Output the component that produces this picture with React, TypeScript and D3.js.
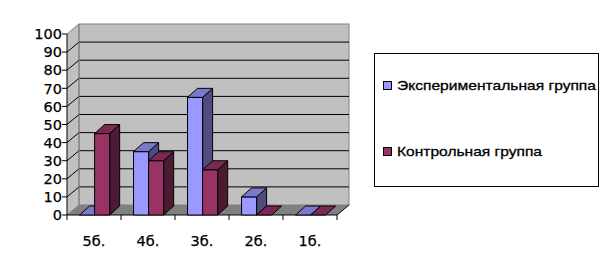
import React from "react";
import * as d3 from "d3";

const categories = ["5б.", "4б.", "3б.", "2б.", "1б."];
const experimental = [0, 35, 65, 10, 0];
const control = [45, 30, 25, 0, 0];
const seriesNames = ["Экспериментальная группа", "Контрольная группа"];
const yTicks = [0, 10, 20, 30, 40, 50, 60, 70, 80, 90, 100];

const W = 609, H = 265;
const X0 = 67, X1 = 337;
const Y0 = 215, Y100 = 34;
const WDX = 12, WDY = 10; // wall depth
const BDX = 10, BDY = 9; // bar depth

const colors = [
  { face: "#9999FF", top: "#7A7ACC", side: "#4D4D80" },
  { face: "#993366", top: "#7A2952", side: "#4D1A33" },
];

export default function App() {
  const y = d3.scaleLinear().domain([0, 100]).range([Y0, Y100]);
  const x = d3.scaleBand<string>().domain(categories).range([X0, X1]).paddingInner(0).paddingOuter(0);
  const inner = d3.scaleBand<number>().domain([0, 1]).range([0, x.bandwidth()]).paddingOuter(0.793).paddingInner(0);
  const series = [experimental, control];
  const font = "'DejaVu Sans', Verdana, sans-serif";

  const bars: React.ReactNode[] = [];
  categories.forEach((c, ci) => {
    series.forEach((s, si) => {
      const v = s[ci];
      const bx = (x(c) as number) + (inner(si) as number) + 0.6;
      const bw = inner.bandwidth();
      const yv = y(v);
      const col = colors[si];
      const topPts = [[bx, yv], [bx + BDX, yv - BDY], [bx + bw + BDX, yv - BDY], [bx + bw, yv]];
      const sidePts = [[bx + bw, yv], [bx + bw + BDX, yv - BDY], [bx + bw + BDX, Y0 - BDY], [bx + bw, Y0]];
      bars.push(
        <g key={`${ci}-${si}`} stroke="#000" strokeWidth={1} strokeLinejoin="round">
          {v > 0 && <polygon points={sidePts.map(p => p.join(",")).join(" ")} fill={col.side} />}
          {v > 0 && <rect x={bx} y={yv} width={bw} height={Y0 - yv} fill={col.face} />}
          <polygon points={topPts.map(p => p.join(",")).join(" ")} fill={col.top} />
        </g>
      );
    });
  });

  const backL = X0 + WDX, backR = X1 + WDX;

  return (
    <svg width={W} height={H} style={{ position: "absolute", left: 0, top: 0, background: "#fff" }}>
      <polygon points={`${X0},${y(100)} ${backL},${y(100) - WDY} ${backL},${Y0 - WDY} ${X0},${Y0}`} fill="#C0C0C0" />
      <rect x={backL} y={y(100) - WDY} width={backR - backL} height={Y0 - y(100)} fill="#C0C0C0" stroke="#808080" />
      <polygon points={`${X0},${Y0} ${backL},${Y0 - WDY} ${backR},${Y0 - WDY} ${X1},${Y0}`} fill="#808080" />
      {yTicks.filter(t => t > 0 && t < 100).map(t => (
        <line key={`g${t}`} x1={backL} x2={backR} y1={y(t) - WDY} y2={y(t) - WDY} stroke="#000" />
      ))}
      {yTicks.map(t => (
        <line key={`d${t}`} x1={X0} x2={backL} y1={y(t)} y2={y(t) - WDY} stroke={t === 100 || t === 0 ? "#808080" : "#000"} />
      ))}
      <line x1={backL} x2={backL} y1={y(100) - WDY} y2={Y0 - WDY} stroke="#808080" />
      <line x1={X1} x2={backR} y1={Y0} y2={Y0 - WDY} stroke="#000" />
      <line x1={X0} x2={X0} y1={y(100)} y2={Y0} stroke="#000" />
      {yTicks.map(t => (
        <g key={`t${t}`}>
          <line x1={X0 - 5} x2={X0} y1={y(t)} y2={y(t)} stroke="#000" />
          <text x={X0 - 5} y={y(t)} dy="0.36em" textAnchor="end" fontFamily={font} fontSize={14.5} fill="#000" stroke="#000" strokeWidth={0.25}>{t}</text>
        </g>
      ))}
      <line x1={X0} x2={X1} y1={Y0} y2={Y0} stroke="#000" />
      {categories.map((c, i) => (
        <line key={`xt${i}`} x1={x(c) as number} x2={x(c) as number} y1={Y0} y2={Y0 + 5} stroke="#000" />
      ))}
      <line x1={X1} x2={X1} y1={Y0} y2={Y0 + 5} stroke="#000" />
      {categories.map(c => (
        <text key={`xl${c}`} x={(x(c) as number) + x.bandwidth() / 2} y={241} dy="0.36em" textAnchor="middle" fontFamily={font} fontSize={14.5} fill="#000" stroke="#000" strokeWidth={0.25}>{c}</text>
      ))}
      {bars}
      <rect x={374.5} y={53.5} width={224} height={133} fill="#fff" stroke="#000" />
      {seriesNames.map((n, i) => {
        const ly = i === 0 ? 85.5 : 151.5;
        return (
          <g key={n}>
            <rect x={383.5} y={ly - 4} width={8} height={8} fill={colors[i].face} stroke="#000" />
            <text x={397} y={ly} dy="0.36em" fontFamily="'Liberation Sans', Arial, sans-serif" fontSize={13.5} fill="#000" stroke="#000" strokeWidth={0.3}
              textLength={i === 0 ? 199 : 145} lengthAdjust="spacingAndGlyphs">{n}</text>
          </g>
        );
      })}
    </svg>
  );
}
